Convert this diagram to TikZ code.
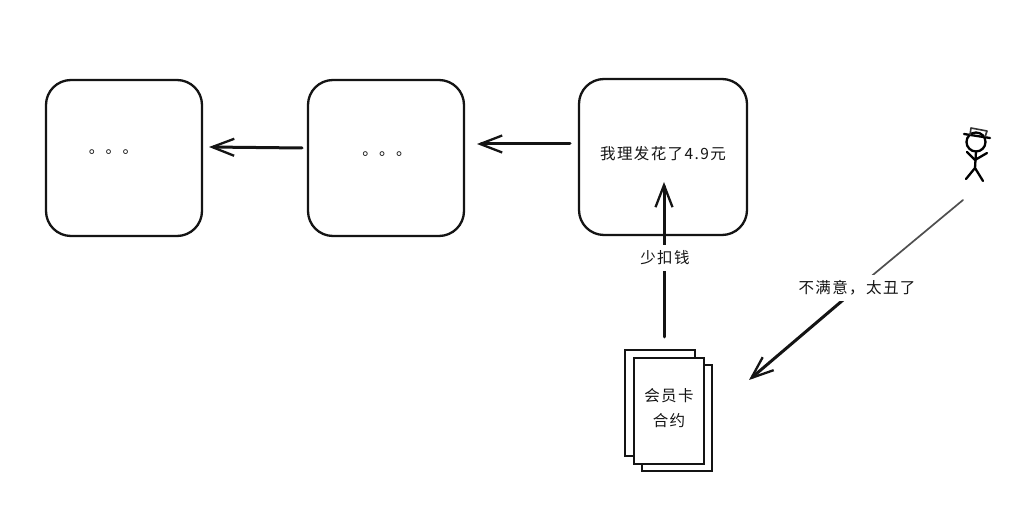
\documentclass[tikz,border=0pt]{standalone}
\usepackage{fontspec}
\usetikzlibrary{arrows.meta,calc}
\newfontfamily\cjk[LetterSpace=9]{Noto Sans CJK SC}
\definecolor{ink}{HTML}{141414}
\tikzset{
  x=1pt,y=-1pt,
  sketchbox/.style={draw=ink,line width=2.3pt,rounded corners=25pt,fill=white,inner sep=0pt,outer sep=0pt,anchor=north west},
  sheet/.style={draw=ink,line width=2.2pt,fill=white,inner sep=0pt,outer sep=0pt,anchor=north west,minimum width=70pt,minimum height=106pt},
  lbl/.style={font=\cjk\fontsize{15.5}{25}\selectfont,text=ink,inner sep=0pt,align=center},
  pill/.style={lbl,fill=white,inner xsep=2pt,inner ysep=6pt},
  sketcharrow/.style={draw=ink,line width=3pt,line cap=round,-{Straight Barb[length=22pt,width=17pt,line width=2.3pt]}},
  figure line/.style={draw=black,line width=2.3pt,line cap=round,line join=round}
}
\begin{document}
\begin{tikzpicture}
\useasboundingbox (0,0) rectangle (1026,526);
\fill[white] (0,0) rectangle (1026,526);
% boxes
\node[sketchbox,minimum width=156pt,minimum height=156pt] (a) at (46,80) {};
\node[sketchbox,minimum width=156pt,minimum height=156pt] (b) at (308,80) {};
\node[sketchbox,minimum width=168pt,minimum height=156pt] (c) at (579,79) {};
\node[lbl] (adots) at (113.5,152) {。。。};
\node[lbl] (bdots) at (387,154) {。。。};
\node[lbl] (ctext) at (663,154) {我理发花了4.9元};
% card stack
\node[sheet] (back) at (625,350) {};
\node[sheet] (under) at (642,365) {};
\node[sheet] (card) at (634,358) {};
\node[lbl] (cardtext) at (669,408.5) {会员卡\\合约};
% person
\coordinate (head) at (976,142);
\node[circle,draw=black,line width=2.3pt,minimum size=19pt,inner sep=0pt,outer sep=0pt] (headc) at (head) {};
\draw[figure line] (964,134) -- (990,138);
\draw[draw=black!80,line width=1.6pt,line join=round] (970,135) -- (971,128) -- (987,131) -- (985,137);
\draw[figure line] (headc.south) -- (975,168) -- (966,179);
\draw[figure line] (975,168) -- (983,181);
\draw[figure line] (967,152) -- (975,160) -- (987,153);
\coordinate (person) at (963,200);
% arrows
\draw[sketcharrow] ([xshift=-6pt,yshift=10pt]b.west) -- ([xshift=7pt,yshift=11pt]a.east);
\draw[sketcharrow] ([xshift=-9pt,yshift=13pt]c.west) -- ([xshift=13pt,yshift=14pt]b.east);
\draw[sketcharrow] ([xshift=-5pt,yshift=21pt]card.north) -- ([xshift=1pt,yshift=53pt]c.south);
\draw[draw=ink!75,line width=1.7pt,line cap=round] (person) -- (856,289);
\draw[sketcharrow] (856,289) -- ([xshift=45pt,yshift=84pt]card.south east);
\node[pill] (lessfee) at (665,258) {少扣钱};
\node[pill] (unhappy) at (857,288) {不满意，太丑了};
\end{tikzpicture}
\end{document}
